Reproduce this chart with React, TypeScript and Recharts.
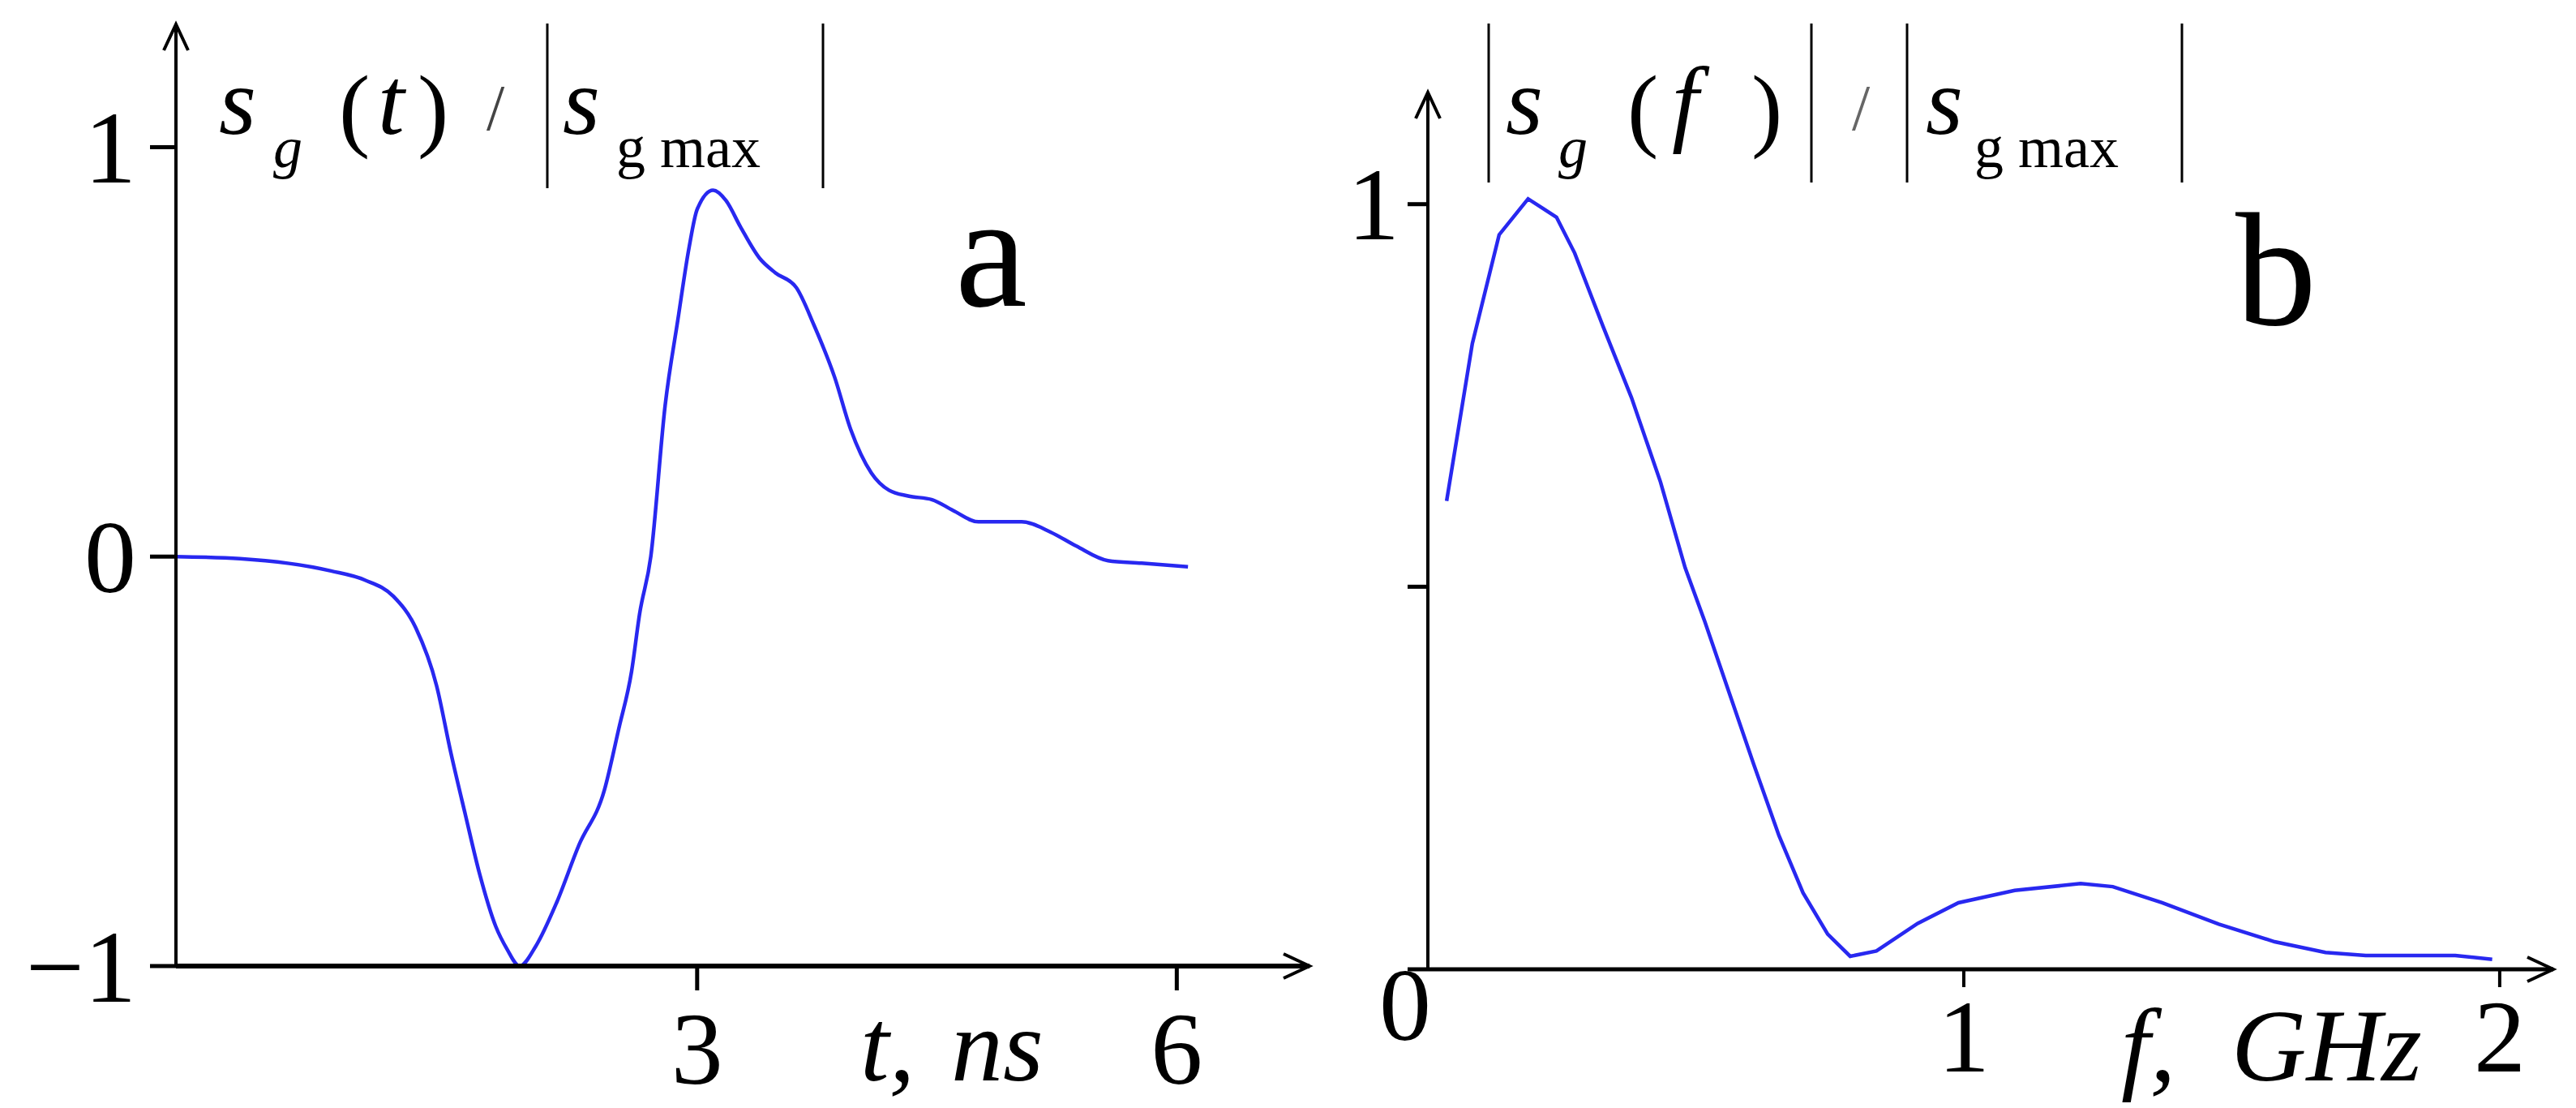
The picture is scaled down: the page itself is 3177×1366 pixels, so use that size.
import React from "react";
import { LineChart, Line, XAxis, YAxis } from "recharts";

// panel a: normalised pulse s_g(t)
const timeNs = [
  -0.26, 0.14, 0.71, 0.92, 1.1, 1.24, 1.37, 1.46, 1.55, 1.64, 1.74, 1.81, 1.89, 1.99, 2.12, 2.26, 2.42,
  2.51, 2.59, 2.64, 2.71, 2.8, 2.88, 2.95, 3.0, 3.1, 3.18, 3.27, 3.39, 3.49, 3.62, 3.73, 3.86, 3.96,
  4.09, 4.2, 4.32, 4.47, 4.6, 4.76, 5.03, 5.21, 5.37, 5.57, 5.78, 6.07,
];
const pulseValues = [
  0, -0.005, -0.035, -0.057, -0.097, -0.174, -0.315, -0.48, -0.63, -0.776, -0.903, -0.958, -1.0, -0.952,
  -0.846, -0.705, -0.57, -0.42, -0.28, -0.14, 0.0, 0.37, 0.58, 0.756, 0.848, 0.895, 0.87, 0.806, 0.729,
  0.693, 0.657, 0.566, 0.438, 0.311, 0.204, 0.162, 0.148, 0.139, 0.113, 0.085, 0.085, 0.06, 0.026, -0.01,
  -0.016, -0.025,
];

// panel b: normalised spectrum |s_g(f)|
const freqGHz = [
  0.035, 0.083, 0.133, 0.187, 0.24, 0.274, 0.327, 0.38, 0.434, 0.48, 0.517, 0.563, 0.608, 0.655, 0.7,
  0.746, 0.788, 0.837, 0.914, 0.99, 1.095, 1.218, 1.278, 1.37, 1.476, 1.58, 1.675, 1.75, 1.917, 1.986,
];
const spectrumValues = [
  0.612, 0.818, 0.96, 1.007, 0.983, 0.936, 0.84, 0.747, 0.637, 0.525, 0.454, 0.36, 0.268, 0.175, 0.1,
  0.046, 0.017, 0.024, 0.06, 0.087, 0.103, 0.112, 0.108, 0.087, 0.059, 0.036, 0.022, 0.018, 0.018, 0.013,
];

const timeTicks = [3, 6];
const pulseTicks = [-1, 0, 1];
const freqTicks = [1, 2];
const spectrumTicks = [0, 0.5, 1];

const pulseData = timeNs.map((t, i) => ({ t, v: pulseValues[i] }));
const spectrumData = freqGHz.map((f, i) => ({ f, v: spectrumValues[i] }));

const SERIF = '"Liberation Serif", "DejaVu Serif", "Times New Roman", serif';
const FS = 128;
const BLUE = "#2828f0";

const fmt = (v: number) => (v < 0 ? `\u2212${Math.abs(v)}` : `${v}`);

const serifStyle = (size: number, italic = false): React.CSSProperties => ({
  fontFamily: SERIF,
  fontSize: size,
  fontStyle: italic ? "italic" : "normal",
});

function XTick({ x, y, payload }: any) {
  return (
    <text x={x} y={y} dy={FS * 0.68} textAnchor="middle" style={serifStyle(FS)} fill="#000">
      {payload.value}
    </text>
  );
}

function YTickA({ x, y, payload }: any) {
  return (
    <text x={x} y={y} dy={FS * 0.34} textAnchor="end" style={serifStyle(FS)} fill="#000">
      {fmt(payload.value)}
    </text>
  );
}

function YTickB({ x, y, payload }: any) {
  if (payload.value === 0.5) return <g />;
  if (payload.value === 0)
    return (
      <text x={x + 7} y={y} dy={FS * 0.68} textAnchor="middle" style={serifStyle(FS)} fill="#000">
        0
      </text>
    );
  return (
    <text x={x} y={y} dy={FS * 0.34} textAnchor="end" style={serifStyle(FS)} fill="#000">
      {payload.value}
    </text>
  );
}

const txt = (x: number, y: number, s: string, size: number, italic = false, fill = "#000") => (
  <text x={x} y={y} style={serifStyle(size, italic)} fill={fill}>
    {s}
  </text>
);

const bar = (x: number, y1: number, y2: number) => <line x1={x} y1={y1} x2={x} y2={y2} stroke="#000" strokeWidth={3} />;

export default function App() {
  return (
    <div style={{ position: "absolute", left: 0, top: 0, width: 3177, height: 1366, background: "#fff" }}>
      <svg width={0} height={0} style={{ position: "absolute" }}>
        <defs>
          <marker
            id="axisArrow"
            markerUnits="userSpaceOnUse"
            viewBox="-40 -25 50 50"
            markerWidth={50}
            markerHeight={50}
            refX={0}
            refY={0}
            orient="auto-start-reverse"
            overflow="visible"
          >
            <path d="M -32 -15 L 0 0 L -32 15" fill="none" stroke="#000" strokeWidth={4} />
          </marker>
        </defs>
      </svg>

      <div style={{ position: "absolute", left: 0, top: 0 }}>
        <LineChart width={1640} height={1366} data={pulseData} margin={{ top: 30, right: 25, bottom: 0, left: 0 }}>
          <XAxis
            type="number"
            dataKey="t"
            domain={[-0.26, 6.83]}
            ticks={timeTicks}
            interval={0}
            allowDataOverflow
            height={175}
            tickSize={30}
            tickMargin={28}
            axisLine={{ stroke: "#000", strokeWidth: 6, markerEnd: "url(#axisArrow)" }}
            tickLine={{ stroke: "#000", strokeWidth: 5 }}
            tick={(p: any) => <XTick {...p} />}
          />
          <YAxis
            type="number"
            domain={[-1, 1.3]}
            ticks={pulseTicks}
            interval={0}
            allowDataOverflow
            width={217}
            tickSize={32}
            tickMargin={17}
            axisLine={{ stroke: "#000", strokeWidth: 4, markerStart: "url(#axisArrow)" }}
            tickLine={{ stroke: "#000", strokeWidth: 5 }}
            tick={(p: any) => <YTickA {...p} />}
          />
          <Line type="monotone" dataKey="v" stroke={BLUE} strokeWidth={4.5} dot={false} isAnimationActive={false} />
        </LineChart>
      </div>

      <div style={{ position: "absolute", left: 1600, top: 0 }}>
        <LineChart width={1577} height={1366} data={spectrumData} margin={{ top: 114, right: 28, bottom: 0, left: 0 }}>
          <XAxis
            type="number"
            dataKey="f"
            domain={[0, 2.1]}
            ticks={freqTicks}
            interval={0}
            allowDataOverflow
            height={171}
            tickSize={22}
            tickMargin={17}
            axisLine={{ stroke: "#000", strokeWidth: 5, markerEnd: "url(#axisArrow)" }}
            tickLine={{ stroke: "#000", strokeWidth: 4 }}
            tick={(p: any) => <XTick {...p} />}
          />
          <YAxis
            type="number"
            domain={[0, 1.146]}
            ticks={spectrumTicks}
            interval={0}
            allowDataOverflow
            width={161}
            tickSize={25}
            tickMargin={10}
            axisLine={{ stroke: "#000", strokeWidth: 4, markerStart: "url(#axisArrow)" }}
            tickLine={{ stroke: "#000", strokeWidth: 5 }}
            tick={(p: any) => <YTickB {...p} />}
          />
          <Line type="linear" dataKey="v" stroke={BLUE} strokeWidth={4.5} dot={false} isAnimationActive={false} />
        </LineChart>
      </div>

      <svg width={3177} height={1366} style={{ position: "absolute", left: 0, top: 0, pointerEvents: "none" }}>
        {/* panel a title: s_g(t) / |s_g max| */}
        {txt(270, 165, "s", 118, true)}
        {txt(337, 206, "g", 72, true)}
        {txt(418, 172, "(", 115)}
        {txt(466, 165, "t", 118, true)}
        {txt(515, 172, ")", 115)}
        {txt(600, 160, "/", 80, false, "#444")}
        {bar(675, 29, 232)}
        {txt(694, 165, "s", 118, true)}
        {txt(760, 206, "g max", 72)}
        {bar(1015, 29, 232)}
        {txt(1178, 377, "a", 200)}
        <text y={1332} style={serifStyle(FS, true)} fill="#000">
          <tspan x={1061}>t,</tspan>
          <tspan x={1173}>ns</tspan>
        </text>

        {/* panel b title: |s_g(f)| / |s_g max| */}
        {bar(1836, 29, 225)}
        {txt(1857, 165, "s", 118, true)}
        {txt(1922, 206, "g", 72, true)}
        {txt(2007, 172, "(", 115)}
        {txt(2062, 165, "f", 118, true)}
        {txt(2160, 172, ")", 115)}
        {bar(2234, 29, 225)}
        {txt(2284, 160, "/", 80, false, "#666")}
        {bar(2352, 29, 225)}
        {txt(2375, 165, "s", 118, true)}
        {txt(2435, 206, "g max", 72)}
        {bar(2691, 29, 225)}
        {txt(2757, 400, "b", 200)}
        <text y={1332} style={serifStyle(FS, true)} fill="#000">
          <tspan x={2616}>f,</tspan>
          <tspan x={2752}>GHz</tspan>
        </text>
      </svg>
    </div>
  );
}
